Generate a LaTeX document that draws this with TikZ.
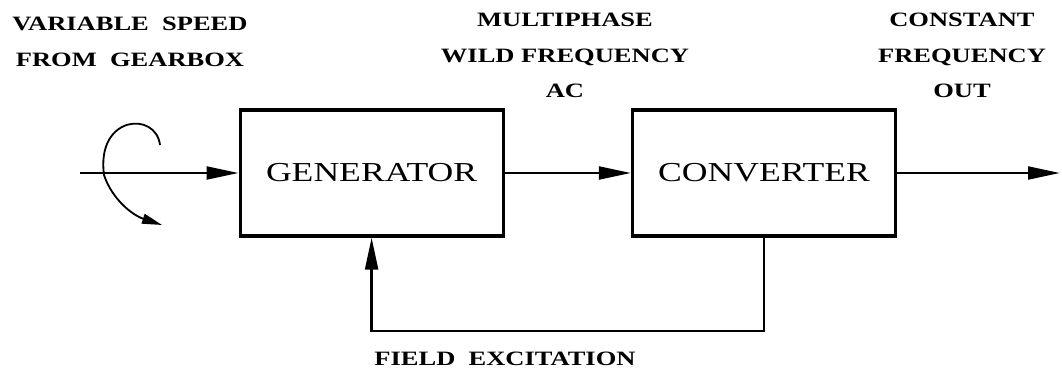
\documentclass[tikz,border=0pt]{standalone}
\usepackage{fontspec}
\setmainfont[FakeStretch=1.3]{Liberation Serif}
\usetikzlibrary{arrows.meta,positioning,calc}

\begin{document}
\begin{tikzpicture}[
    blk/.style={rectangle, draw, line width=2.2pt, minimum width=6.575cm,
                minimum height=3.15cm, font=\fontsize{19.5}{22}\selectfont},
    lbl/.style={align=center, font=\bfseries\fontsize{14.5}{25.5}\selectfont},
    arr/.style={line width=1.9pt, -{Triangle[length=8mm, width=3.2mm]}}
  ]
  \useasboundingbox (0,0) rectangle (26.55,9.375);
  \node[blk] (gen)  at (9.29, 5.05) {GENERATOR};
  \node[blk] (conv) at (19.1, 5.05) {CONVERTER};
  \coordinate (in)  at (2.0, 5.05);
  \coordinate (out) at (26.5, 5.05);
  \coordinate (fb)  at (19.1, 1.1);
  \draw[arr] (in) -- (gen.west);
  \draw[arr] (gen.east) -- (conv.west);
  \draw[arr] (conv.east) -- (out);
  \draw[arr] (conv.south) -- (fb) -| (gen.south);
  % rotating shaft
  \draw[line width=1.3pt, -{Triangle[length=5mm, width=2.5mm]}]
    (4.0,5.75) .. controls (3.9,6.6) and (2.4,6.5) .. (2.6,5.0)
               .. controls (2.8,4.4) and (3.3,4.0) .. (4.05,3.75);
  \node[lbl] (l1) at (3.25, 8.33)   {VARIABLE~~SPEED\\FROM~~GEARBOX};
  \node[lbl] (l2) at (14.125, 7.99) {MULTIPHASE\\WILD FREQUENCY\\AC};
  \node[lbl] (l3) at (24.05, 7.99)  {CONSTANT\\FREQUENCY\\OUT};
  \node[lbl] (l4) at (12.625, 0.41) {FIELD~~EXCITATION};
\end{tikzpicture}
\end{document}
